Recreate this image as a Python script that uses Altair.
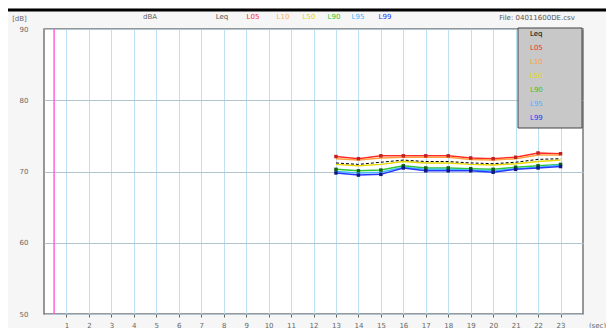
import altair as alt
import pandas as pd

secs = list(range(13, 24))
series_names = ["Leq", "L05", "L10", "L50", "L90", "L95", "L99"]
series_colors = ["#000000", "#ff2a2a", "#ffa040", "#e8d800", "#30c830", "#40b8ff", "#2838ff"]

leq = [71.2, 71.0, 71.3, 71.6, 71.4, 71.4, 71.2, 71.1, 71.3, 71.7, 71.8]
l05 = [72.1, 71.8, 72.2, 72.2, 72.2, 72.2, 71.9, 71.8, 72.0, 72.6, 72.5]
l10 = [71.8, 71.6, 71.9, 72.0, 72.0, 72.0, 71.7, 71.6, 71.8, 72.3, 72.3]
l50 = [71.0, 70.8, 71.0, 71.4, 71.2, 71.2, 71.0, 70.9, 71.1, 71.4, 71.6]
l90 = [70.3, 70.1, 70.2, 70.8, 70.5, 70.5, 70.4, 70.3, 70.6, 70.8, 71.0]
l95 = [70.0, 69.8, 69.9, 70.6, 70.3, 70.3, 70.2, 70.1, 70.4, 70.6, 70.9]
l99 = [69.8, 69.5, 69.6, 70.5, 70.1, 70.1, 70.1, 69.9, 70.3, 70.5, 70.7]

x_ticks = list(range(1, 24))
y_ticks = [50, 60, 70, 80, 90]
marker_x = [0.45]

header_labels = ["dBA", "Leq", "L05", "L10", "L50", "L90", "L95", "L99"]
file_label = "File: 04011600DE.csv"

values = [leq, l05, l10, l50, l90, l95, l99]
rows = []
for name, vals in zip(series_names, values):
    for s, v in zip(secs, vals):
        rows.append({"sec": s, "series": name, "dB": v})
df = pd.DataFrame(rows)

FONT = "DejaVu Sans"
W, H = 539, 285

color_expr = " : ".join(
    f"datum.label == '{n}' ? '{c}'" for n, c in zip(series_names, series_colors)
) + " : '#000'"

xaxis = alt.Axis(
    values=x_ticks, grid=True, gridColor="#bcdff2", gridWidth=1,
    domain=False, tickColor="#666", tickSize=3,
    labelOverlap=False, labelBound=False,
    labelColor="#666", labelFontSize=7, labelFont=FONT, labelPadding=4,
    title="(sec)", titleFont=FONT, titleFontSize=7, titleFontWeight="normal",
    titleColor="#666", titleX=553, titleY=11, titleAlign="center",
    titleBaseline="middle",
)
xscale = alt.Scale(domain=[0, 24], nice=False, zero=False)
xenc = alt.X("sec:Q", scale=xscale, axis=xaxis)

yenc = alt.Y(
    "dB:Q",
    scale=alt.Scale(domain=[50, 90], nice=False, zero=False),
    axis=alt.Axis(
        values=y_ticks, grid=True, gridColor="#b0c4d2", gridWidth=1,
        domain=False, tickSize=0, labelPadding=16,
        labelColor="#666", labelFontSize=7, labelFont=FONT,
        title="[dB]", titleFont=FONT, titleFontSize=7, titleFontWeight="normal",
        titleColor="#666", titleAngle=0, titleX=-25, titleY=-11,
        titleAlign="center", titleBaseline="middle",
    ),
)

color = alt.Color(
    "series:N",
    scale=alt.Scale(domain=series_names, range=series_colors),
    legend=alt.Legend(
        orient="none", legendX=479, legendY=1, title=None,
        symbolSize=0, symbolOpacity=0, symbolStrokeWidth=0, labelOffset=0,
        labelFont=FONT, labelFontSize=7, rowPadding=6, padding=0,
        labelColor=alt.ExprRef(color_expr),
    ),
)

base = alt.Chart(df)

lines = base.transform_filter("datum.series != 'Leq'").mark_line(
    strokeWidth=1.5
).encode(x=xenc, y=yenc, color=color, order="sec:Q")

leq_line = base.transform_filter("datum.series == 'Leq'").mark_line(
    strokeWidth=1, strokeDash=[3, 2], color="#000"
).encode(x=xenc, y=yenc, order="sec:Q")

pts = base.transform_filter(
    "datum.series == 'L05' || datum.series == 'L99' || datum.series == 'L90'"
).mark_square(size=12, opacity=1).encode(
    x=xenc, y=yenc,
    color=alt.Color("series:N", scale=alt.Scale(domain=series_names,
                                                range=["#000", "#c02020", "#000", "#000", "#106010", "#000", "#101880"]),
                    legend=None),
)

marker = alt.Chart(pd.DataFrame({"sec": marker_x})).mark_rule(
    color="#ff60e0", strokeWidth=1.5
).encode(x=xenc)

box = base.mark_rect(fill="#c8c8c8", stroke="#444", strokeWidth=1).encode(
    x=alt.value(474), x2=alt.value(538), y=alt.value(-1), y2=alt.value(99)
).transform_filter("datum.sec == 13 && datum.series == 'Leq'")

header_x = [150, 222, 253, 283, 309, 334, 358, 385]
header_colors = ["#666", "#555", "#ff2a2a", "#ffb060", "#e8d800", "#30c830", "#40b8ff", "#2838ff"]
hdf = pd.DataFrame({"label": header_labels, "px": [v - 44 for v in header_x], "c": header_colors})
header = alt.Chart(hdf).mark_text(
    font=FONT, fontSize=7, baseline="middle", align="center"
).encode(
    x=alt.X("px:Q", scale=None), y=alt.value(-12), text="label:N",
    color=alt.Color("c:N", scale=None),
)

file_txt = alt.Chart(pd.DataFrame({"t": [file_label]})).mark_text(
    font=FONT, fontSize=7, baseline="middle", align="center", color="#555"
).encode(x=alt.value(493), y=alt.value(-11), text="t:N")

topbar = alt.Chart(pd.DataFrame({"a": [0]})).mark_rule(
    color="#000", strokeWidth=3
).encode(x=alt.value(-36), x2=alt.value(562), y=alt.value(-19))

chart = alt.layer(
    lines, leq_line, pts, marker, box, header, file_txt, topbar
).resolve_scale(color="independent").properties(
    width=W, height=H,
    autosize=alt.AutoSizeParams(type="none"),
    padding={"left": 36, "top": 21, "right": 23, "bottom": 14},
    background="#f6f6f6",
).configure_view(
    fill="#ffffff", stroke="#777", strokeWidth=1.5
).configure_axisX(labelOverlap=False)

chart.save("out.html", embed_options={"renderer": "svg", "actions": False})
